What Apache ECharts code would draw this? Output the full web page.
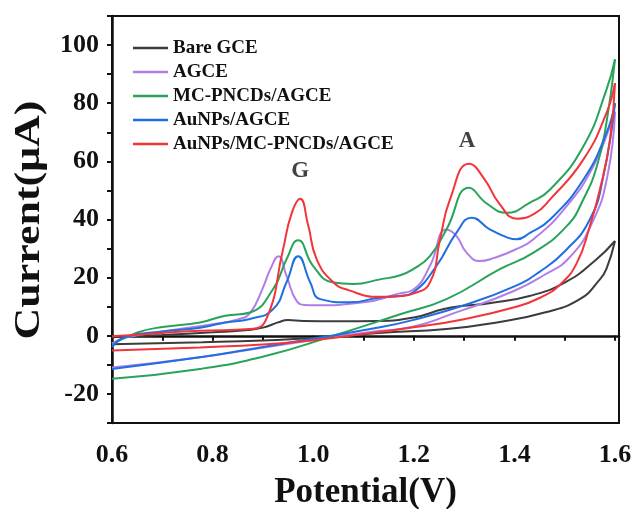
<!DOCTYPE html>
<html>
<head>
<meta charset="utf-8">
<script src="https://cdn.jsdelivr.net/npm/echarts@6/dist/echarts.min.js"></script>
<style>
  html, body { margin: 0; padding: 0; background: #fff; }
  #chart { width: 633px; height: 509px; }
</style>
</head>
<body>
<div id="chart"></div>
<script>
// legend names
var names = ['Bare GCE', 'AGCE', 'MC-PNCDs/AGCE', 'AuNPs/AGCE', 'AuNPs/MC-PNCDs/AGCE'];
var colors = ['#3c3c3c', '#b07ee6', '#27a35a', '#1f6fe0', '#f2353a'];

// forward (anodic) scans: potential (V) / current (uA)
var bareFwdX = [0.6, 0.7, 0.8, 0.87, 0.9, 0.93, 0.95, 0.98, 1.05, 1.13, 1.2, 1.26, 1.3, 1.35, 1.43, 1.5, 1.56, 1.6];
var bareFwdY = [-0.5, 0.3, 1.2, 2.0, 2.8, 4.6, 5.4, 5.1, 5.0, 5.1, 6.3, 9.2, 10.3, 11.2, 13.7, 18.3, 25.8, 32.6];
var agceFwdX = [0.6, 0.63, 0.7, 0.8, 0.85, 0.875, 0.9, 0.915, 0.931, 0.947, 0.967, 0.985, 1.0, 1.1, 1.17, 1.2, 1.232, 1.265, 1.285, 1.305, 1.331, 1.36, 1.4, 1.438, 1.504, 1.557, 1.59, 1.6];
var agceFwdY = [-2.6, -0.5, 1.5, 4.0, 5.6, 8.0, 16.5, 23, 27.4, 20.6, 12, 10.6, 10.5, 11.5, 14.5, 16, 24, 36.6, 34.3, 28.6, 25.7, 26.8, 29.5, 33.2, 44.6, 58.3, 72, 77.1];
var mcFwdX = [0.6, 0.652, 0.7, 0.775, 0.825, 0.874, 0.92, 0.947, 0.97, 1.0, 1.04, 1.08, 1.133, 1.173, 1.199, 1.232, 1.265, 1.31, 1.345, 1.385, 1.431, 1.471, 1.537, 1.583, 1.6];
var mcFwdY = [-3.0, 1.2, 3.0, 4.6, 6.9, 8.0, 16, 26.3, 32.9, 24, 18.3, 17.8, 19.4, 20.8, 22.9, 27.4, 36.6, 50.9, 45.5, 42.3, 45.8, 50.3, 65.1, 84.6, 95.1];
var auFwdX = [0.6, 0.626, 0.7, 0.775, 0.825, 0.874, 0.92, 0.947, 0.97, 0.994, 1.014, 1.073, 1.133, 1.173, 1.199, 1.245, 1.285, 1.315, 1.351, 1.388, 1.404, 1.431, 1.471, 1.537, 1.583, 1.6];
var auFwdY = [-3.9, -0.5, 1.5, 2.8, 4.6, 5.8, 9.1, 18.4, 27.4, 18.4, 12.6, 11.5, 13.2, 13.7, 15, 24, 35.5, 40.6, 36.6, 33.7, 33.2, 35.4, 40, 53.7, 69.7, 80];
var auMcFwdX = [0.6, 0.7, 0.775, 0.874, 0.907, 0.94, 0.957, 0.974, 0.99, 1.007, 1.04, 1.07, 1.13, 1.173, 1.199, 1.232, 1.252, 1.272, 1.31, 1.34, 1.37, 1.405, 1.44, 1.471, 1.537, 1.583, 1.6];
var auMcFwdY = [-0.2, 1.0, 1.7, 2.3, 5.8, 29.7, 42, 47.1, 38, 26.3, 18.4, 15.7, 13.4, 13.7, 14.5, 18.3, 33, 46.9, 59.2, 54, 45.5, 40.3, 42, 46.9, 60.6, 76.6, 86.9];

// reverse (cathodic) scans
var bareRevX = [1.6, 1.583, 1.57, 1.53, 1.46, 1.365, 1.265, 1.13, 1.0, 0.9, 0.78, 0.6];
var bareRevY = [32.6, 23, 19.4, 12.6, 8, 4.6, 2.3, 1.0, -0.8, -1.6, -2.2, -2.9];
var agceRevX = [1.6, 1.585, 1.555, 1.51, 1.46, 1.4, 1.3, 1.173, 1.133, 0.974, 0.775, 0.6];
var agceRevY = [77.1, 55, 39, 27, 21, 15.5, 9, 2.3, 1.7, -2.1, -7.4, -10.9];
var mcRevX = [1.6, 1.583, 1.564, 1.537, 1.504, 1.438, 1.371, 1.265, 1.173, 1.04, 0.907, 0.775, 0.6];
var mcRevY = [95.1, 73.2, 58.3, 46.9, 37.7, 28.6, 22.9, 12.6, 7.4, 0, -6.9, -11.4, -14.8];
var auRevX = [1.6, 1.577, 1.55, 1.5, 1.45, 1.4, 1.3, 1.2, 1.133, 0.974, 0.874, 0.775, 0.6];
var auRevY = [80, 55, 40, 29, 22, 17, 10.5, 5.5, 2.9, -1.7, -4.6, -7.4, -11.4];
var auMcRevX = [1.6, 1.59, 1.57, 1.55, 1.524, 1.49, 1.45, 1.4, 1.3, 1.2, 1.1, 1.0, 0.9, 0.775, 0.6];
var auMcRevY = [86.9, 67.4, 50.3, 37.7, 25, 17.5, 13, 9.8, 5.7, 2.9, 0.6, -1.5, -3.0, -4.0, -5.1];

// peak labels
var peakLabels = ['G', 'A'];
var peakX = [0.974, 1.306];
var peakY = [56.5, 67];

var fwdX = [bareFwdX, agceFwdX, mcFwdX, auFwdX, auMcFwdX];
var fwdY = [bareFwdY, agceFwdY, mcFwdY, auFwdY, auMcFwdY];
var revX = [bareRevX, agceRevX, mcRevX, auRevX, auMcRevX];
var revY = [bareRevY, agceRevY, mcRevY, auRevY, auMcRevY];

var font = 'Liberation Serif';

function pairs(xs, ys) {
  return xs.map(function (x, i) { return [x, ys[i]]; });
}

var series = [];
names.forEach(function (name, k) {
  [pairs(fwdX[k], fwdY[k]), pairs(revX[k], revY[k])].forEach(function (data) {
    series.push({
      name: name,
      type: 'line',
      data: data,
      smooth: 0.5,
      symbol: 'none',
      color: colors[k],
      lineStyle: { width: 2, color: colors[k] },
      silent: true
    });
  });
});

series.push({
  type: 'scatter',
  data: pairs(peakX, peakY),
  symbolSize: 0,
  silent: true,
  label: {
    show: true,
    position: 'inside',
    formatter: function (p) { return peakLabels[p.dataIndex]; },
    fontFamily: font,
    fontWeight: 'bold',
    fontSize: 23,
    color: '#111'
  }
});

var chart = echarts.init(document.getElementById('chart'), null, { renderer: 'canvas' });

chart.setOption({
  animation: false,
  backgroundColor: '#fff',
  grid: {
    left: 112, right: 14, top: 16, bottom: 86,
    outerBoundsMode: 'none',
    containLabel: false,
    show: true, borderColor: '#111', borderWidth: 2
  },
  // y-axis title, drawn a little stretched like the original figure
  graphic: [{
    type: 'text',
    x: 30,
    y: 220,
    rotation: Math.PI / 2,
    scaleX: 1.22,
    style: {
      text: 'Current(μA)',
      fontFamily: font,
      fontWeight: 'bold',
      fontSize: 36,
      fill: '#111',
      align: 'center',
      verticalAlign: 'middle'
    }
  }],
  legend: {
    data: names,
    orient: 'vertical',
    left: 128,
    top: 33,
    icon: 'rect',
    itemWidth: 35,
    itemHeight: 2.5,
    itemGap: 4,
    textStyle: { fontFamily: font, fontWeight: 'bold', fontSize: 19, lineHeight: 20, color: '#111' }
  },
  xAxis: {
    type: 'value',
    min: 0.6,
    max: 1.608,
    interval: 0.1,
    name: 'Potential(V)',
    nameLocation: 'middle',
    nameGap: 52,
    nameTextStyle: { fontFamily: font, fontWeight: 'bold', fontSize: 35, color: '#111' },
    splitLine: { show: false },
    axisLine: { lineStyle: { color: '#111', width: 2.5 } },
    axisTick: { inside: false, length: 5, lineStyle: { color: '#111', width: 2 } },
    axisLabel: {
      fontFamily: font, fontWeight: 'bold', fontSize: 26, color: '#111', margin: 19,
      formatter: function (v) {
        var t = Math.round(v * 10);
        if (t % 2 !== 0 || v > 1.601) return '';
        return (t / 10).toFixed(1);
      }
    }
  },
  yAxis: {
    type: 'value',
    min: -30,
    max: 110,
    interval: 10,
    splitLine: { show: false },
    axisLine: { lineStyle: { color: '#111', width: 2.5 } },
    axisTick: { inside: false, length: 5, lineStyle: { color: '#111', width: 2 } },
    axisLabel: {
      fontFamily: font, fontWeight: 'bold', fontSize: 26, color: '#111', margin: 13,
      formatter: function (v) {
        if (v % 20 !== 0 || v > 100) return '';
        return String(v);
      }
    }
  },
  series: series
});
</script>
</body>
</html>
